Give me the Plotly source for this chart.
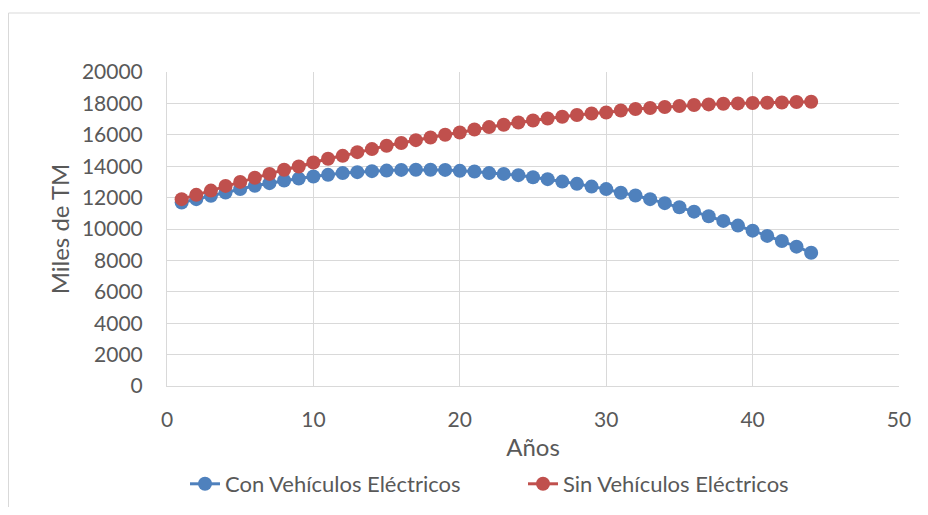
import plotly.graph_objects as go

anios = list(range(1, 45))
con_ve = [11680, 11900, 12110, 12320, 12540, 12750, 12920, 13085, 13210, 13340,
          13450, 13560, 13620, 13685, 13720, 13765, 13770, 13770, 13765, 13705,
          13660, 13560, 13510, 13430, 13300, 13175, 13020, 12875, 12700, 12540,
          12310, 12130, 11900, 11645, 11390, 11105, 10815, 10515, 10215, 9895,
          9560, 9240, 8875, 8490]
sin_ve = [11900, 12175, 12445, 12745, 13000, 13260, 13510, 13770, 13980, 14235,
          14470, 14660, 14895, 15090, 15300, 15480, 15660, 15830, 16000, 16150,
          16340, 16490, 16640, 16785, 16915, 17040, 17150, 17260, 17360, 17425,
          17550, 17640, 17705, 17770, 17830, 17895, 17935, 17980, 18000, 18025,
          18045, 18060, 18085, 18105]
series_names = ["Con Vehículos Eléctricos", "Sin Vehículos Eléctricos"]
x_ticks = [0, 10, 20, 30, 40, 50]
y_ticks = list(range(0, 20001, 2000))

FONT = "Lato"
GREY = "#595959"
GRID = "#d9d9d9"

fig = go.Figure()
fig.add_trace(go.Scatter(x=anios, y=con_ve, name=series_names[0], mode="lines+markers",
                         line=dict(color="#4f81bd", width=3),
                         marker=dict(color="#4f81bd", size=14)))
fig.add_trace(go.Scatter(x=anios, y=sin_ve, name=series_names[1], mode="lines+markers",
                         line=dict(color="#c0504d", width=3),
                         marker=dict(color="#c0504d", size=14)))

# page has an 8px body margin: figure origin is at page (8, 8); keep it within the window
OFF = 8
W, H = 928 - 2 * OFF, 515 - 2 * OFF
L = 167 - OFF
T = 72 - OFF
R = W - (899 - OFF)
B = H - (386 - OFF)
pw, ph = W - L - R, H - T - B


def px_x(px):
    return (px - OFF - L) / pw


def px_y(py):
    return (H - B - (py - OFF)) / ph


fig.update_layout(
    width=W, height=H,
    margin=dict(l=L, r=R, t=T, b=B, pad=0, autoexpand=False),
    paper_bgcolor="white", plot_bgcolor="white",
    font=dict(family=FONT, size=21, color=GREY),
    showlegend=True,
    legend=dict(orientation="h", x=px_x(185), xanchor="left",
                y=px_y(484), yanchor="middle",
                entrywidth=293, entrywidthmode="pixels",
                font=dict(family=FONT, size=22, color=GREY),
                bgcolor="rgba(0,0,0,0)"),
    xaxis=dict(range=[0, 50], tickvals=x_ticks, ticktext=[str(v) for v in x_ticks],
               showgrid=True, gridcolor=GRID, gridwidth=1, zeroline=False,
               showline=True, linecolor=GRID, linewidth=1, mirror=False,
               ticks="outside", ticklen=0, ticklabelstandoff=15,
               tickfont=dict(family=FONT, size=21, color=GREY),
               title=dict(text="Años", standoff=8, font=dict(family=FONT, size=24, color=GREY))),
    yaxis=dict(range=[0, 20000], tickvals=y_ticks, ticktext=[str(v) for v in y_ticks],
               showgrid=True, gridcolor=GRID, gridwidth=1, zeroline=False,
               showline=True, linecolor=GRID, linewidth=1,
               ticks="outside", ticklen=0, ticklabelstandoff=19,
               tickfont=dict(family=FONT, size=21, color=GREY),
               title=dict(text="Miles de TM", standoff=5, font=dict(family=FONT, size=24, color=GREY))),
    shapes=[
        dict(type="line", xref="paper", yref="paper",
             x0=(0.5 - L) / pw, x1=(W + 20 - L) / pw, y0=px_y(13), y1=px_y(13),
             line=dict(color=GRID, width=1), layer="below"),
        dict(type="line", xref="paper", yref="paper",
             x0=(0.5 - L) / pw, x1=(0.5 - L) / pw, y0=px_y(13), y1=px_y(540),
             line=dict(color=GRID, width=1), layer="below"),
    ],
)

fig.write_html("out.html")
